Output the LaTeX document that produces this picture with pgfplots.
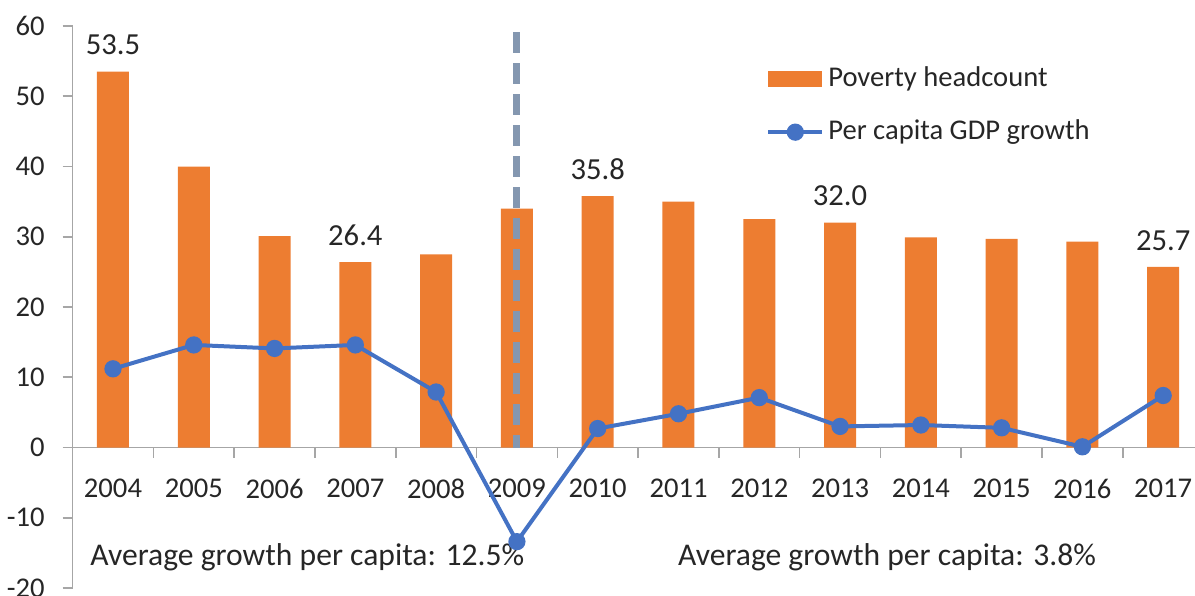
\documentclass[border=0pt]{standalone}
\usepackage{pgfplots}
\pgfplotsset{compat=1.18}
\usepackage{fontspec}
\setmainfont{Carlito}
\definecolor{barorange}{HTML}{ED7D31}
\definecolor{lineblue}{HTML}{4472C4}
\definecolor{dashgray}{HTML}{8497B0}
\definecolor{axgray}{HTML}{A6A6A6}
\definecolor{txt}{HTML}{262626}
\begin{document}
\fontsize{14.3}{17}\selectfont
\begin{tikzpicture}[text=txt, font=\fontsize{14.3}{17}\selectfont]
\begin{axis}[
  scale only axis, width=565.5pt, height=281pt,
  xmin=-0.5, xmax=13.5, ymin=-20, ymax=60,
  axis y line=left, axis x line=middle,
  axis line style={axgray, line width=0.8pt, -},
  tick align=outside,
  xtick={0,1,2,3,4,5,6,7,8,9,10,11,12,13},
  xticklabels={2004,2005,2006,2007,2008,2009,2010,2011,2012,2013,2014,2015,2016,2017},
  minor xtick={0.5,1.5,2.5,3.5,4.5,5.5,6.5,7.5,8.5,9.5,10.5,11.5,12.5},
  major x tick style={draw=none},
  ytick={-20,-10,0,10,20,30,40,50,60},
  yticklabels={-20,-10,0,10,20,30,40,50,60},
  major tick length=5pt, minor tick length=5pt,
  tick style={axgray, line width=0.8pt},
  xticklabel style={yshift=-6pt, font=\fontsize{14.3}{17}\selectfont},
  yticklabel style={xshift=-4pt, font=\fontsize{14.3}{17}\selectfont},
  legend style={at={(0.613,0.935)}, anchor=north west, draw=none, fill=none,
    inner sep=0pt, row sep=10.5pt, font=\fontsize{14.3}{17}\selectfont},
  legend cell align=left,
  clip=false,
]
\addplot[ybar, bar width=16pt, fill=barorange, draw=none,
  legend image code/.code={\fill[barorange] (0pt,-4pt) rectangle (27pt,4pt);}]
  coordinates {(0,53.5) (1,40.0) (2,30.1) (3,26.4) (4,27.5) (5,34.0) (6,35.8)
               (7,35.0) (8,32.5) (9,32.0) (10,29.9) (11,29.7) (12,29.3) (13,25.7)};
\addlegendentry{Poverty headcount}
\addplot[dashgray, line width=3.5pt, dash pattern=on 10.5pt off 5pt, forget plot]
  coordinates {(5,59.1) (5,0)};
\addplot[lineblue, line width=2pt, mark=*, mark size=3.3pt,
  mark options={fill=lineblue, draw=lineblue},
  legend image code/.code={\draw[lineblue, line width=2pt] (0pt,0pt) -- (27pt,0pt);
                           \fill[lineblue] (13.5pt,0pt) circle (3.3pt);}]
  coordinates {(0,11.2) (1,14.6) (2,14.1) (3,14.6) (4,7.9) (5,-13.4) (6,2.7)
               (7,4.8) (8,7.1) (9,3.0) (10,3.2) (11,2.8) (12,0.1) (13,7.4)};
\addlegendentry{Per capita GDP growth}
\addplot[draw=none, mark=none, forget plot, nodes near coords,
  point meta=explicit symbolic,
  every node near coord/.append style={anchor=center, yshift=13.3pt,
    font=\fontsize{15.3}{18}\selectfont}]
  coordinates {(0,53.5) [53.5] (3,26.4) [26.4] (6,35.8) [35.8] (9,32.0) [32.0] (13,25.7) [25.7]};
\node[anchor=west, inner sep=0pt, font=\fontsize{15.8}{19}\selectfont] at (axis cs:-0.285,-15.6) {Average growth per capita: 12.5\%};
\node[anchor=west, inner sep=0pt, font=\fontsize{15.8}{19}\selectfont] at (axis cs:6.99,-15.6) {Average growth per capita: 3.8\%};
\end{axis}
\pgfresetboundingbox
\useasboundingbox (-36.3pt,-3.5pt) rectangle (561.2pt,294pt);
\end{tikzpicture}
\end{document}
